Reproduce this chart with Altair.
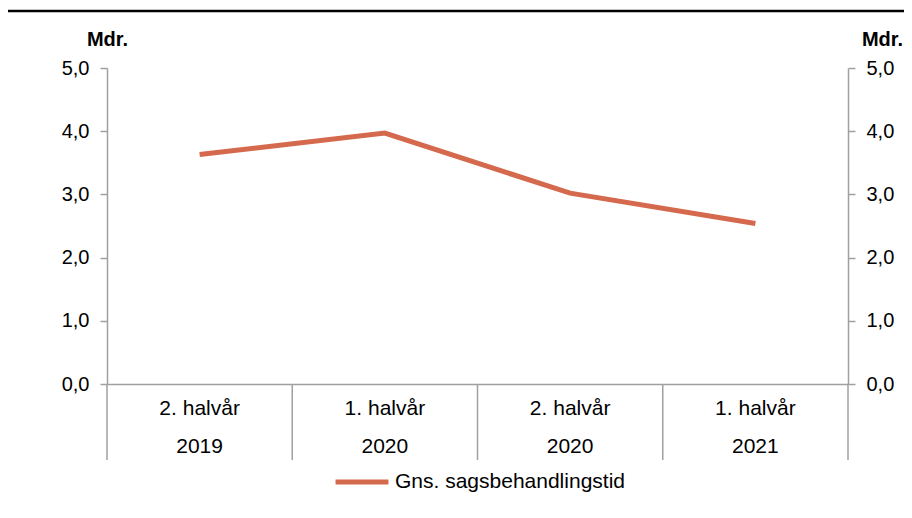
import altair as alt
import pandas as pd

# ---- data ----
periods = ["2. halvår", "1. halvår", "2. halvår", "1. halvår"]
years = ["2019", "2020", "2020", "2021"]
values = [3.63, 3.97, 3.02, 2.54]
series_name = "Gns. sagsbehandlingstid"
y_ticks = [0, 1, 2, 3, 4, 5]
axis_title = "Mdr."

RED = "#D5694D"
GREY = "#A0A0A0"
FONT = "Liberation Sans"
W, H = 741, 316

df = pd.DataFrame({
    "pos": [i + 0.5 for i in range(len(values))],
    "period": periods,
    "year": years,
    "value": values,
    "series": [series_name] * len(values),
})
bounds = pd.DataFrame({"b": list(range(len(values) + 1))})
one = pd.DataFrame({"a": [0]})

x_scale = alt.Scale(domain=[0, len(values)], nice=False, zero=False)
y_scale = alt.Scale(domain=[0, 5], nice=False)
lbl = "replace(format(datum.value, '.1f'), '.', ',')"


def y_axis(orient, title_x):
    return alt.Axis(
        orient=orient, values=y_ticks, labelExpr=lbl, grid=False,
        domainColor=GREY, domainWidth=1.5, tickColor=GREY, tickWidth=1.5,
        tickSize=7, labelPadding=11, labelFontSize=20, labelFont=FONT,
        labelColor="black", title=axis_title, titleAngle=0, titleX=title_x,
        titleY=-29, titleAlign="center", titleBaseline="middle",
        titleFontSize=20, titleFont=FONT, titleFontWeight="bold",
        titleColor="black",
    )


line = alt.Chart(df).mark_line(strokeWidth=5).encode(
    x=alt.X("pos:Q", scale=x_scale,
            axis=alt.Axis(labels=False, ticks=False, grid=False, title=None,
                          domainColor=GREY, domainWidth=1.5)),
    y=alt.Y("value:Q", scale=y_scale, axis=y_axis("left", 0)),
    color=alt.Color("series:N", scale=alt.Scale(range=[RED]),
                    legend=alt.Legend(title=None, orient="none", legendX=226,
                                      legendY=385, symbolType="stroke",
                                      symbolSize=2800, symbolStrokeWidth=5,
                                      labelFontSize=21, labelFont=FONT,
                                      labelColor="black", labelOffset=4,
                                      labelLimit=0, padding=0)),
)

right = alt.Chart(df).mark_line(opacity=0).encode(
    x=alt.X("pos:Q", scale=x_scale),
    y=alt.Y("value:Q", scale=y_scale, axis=y_axis("right", 34)),
)

seps = alt.Chart(bounds).mark_rule(color=GREY, strokeWidth=1.5).encode(
    x=alt.X("b:Q", scale=x_scale),
    y=alt.value(H),
    y2=alt.value(H + 76),
)

period_txt = alt.Chart(df).mark_text(fontSize=21, font=FONT, color="black",
                                     baseline="middle").encode(
    x=alt.X("pos:Q", scale=x_scale), y=alt.value(341), text="period:N")

year_txt = alt.Chart(df).mark_text(fontSize=21, font=FONT, color="black",
                                   baseline="middle").encode(
    x=alt.X("pos:Q", scale=x_scale), y=alt.value(379), text="year:N")

top_rule = alt.Chart(one).mark_rule(color="black", strokeWidth=2.5).encode(
    x=alt.value(-99), x2=alt.value(805), y=alt.value(-57))

chart = alt.layer(seps, period_txt, year_txt, top_rule, line, right).resolve_scale(
    y="independent"
).properties(
    width=W, height=H,
    padding={"left": 99, "top": 60, "right": 56, "bottom": 120},
    autosize=alt.AutoSizeParams(type="none"),
).configure_view(stroke=None)

chart.save("out.html", embed_options={"renderer": "svg", "actions": False})
